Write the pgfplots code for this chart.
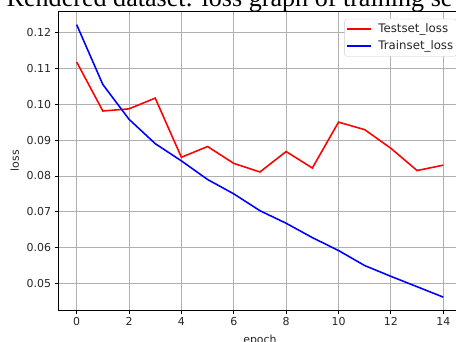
\documentclass[border=0pt]{standalone}
\usepackage{fontspec}
\setmainfont{DejaVu Sans}
\newfontfamily\titlefont{Liberation Serif}
\usepackage{pgfplots}
\pgfplotsset{compat=1.18}
\definecolor{gridgray}{RGB}{176,176,176}
\definecolor{legframe}{RGB}{204,204,204}
\definecolor{labelgray}{RGB}{38,38,38}
\begin{document}
\begin{tikzpicture}
\useasboundingbox (0,0) rectangle (456bp,342bp);
\node[anchor=base west, inner sep=0pt, font=\titlefont\fontsize{26.2}{30}\selectfont] at (6.5bp,335bp) {Rendered dataset: loss graph of training se};
\begin{axis}[
  at={(58.3bp,32bp)}, anchor=south west,
  scale only axis, width=403.3bp, height=299bp,
  xmin=-0.7, xmax=14.7, ymin=0.04261, ymax=0.12599,
  xtick={0,2,4,6,8,10,12,14},
  ytick={0.05,0.06,0.07,0.08,0.09,0.10,0.11,0.12},
  yticklabel style={/pgf/number format/fixed, /pgf/number format/fixed zerofill, /pgf/number format/precision=2},
  /pgf/number format/assume math mode=true,
  tick label style={font=\fontsize{11}{12}\selectfont, text=labelgray},
  label style={font=\fontsize{11}{12}\selectfont, text=labelgray},
  tick pos=left, tick align=outside, major tick length=3.7bp,
  tick style={black, line width=0.8bp},
  axis line style={black, line width=0.8bp},
  grid=major, major grid style={gridgray, line width=0.8bp},
  xlabel={epoch}, ylabel={loss},
  xlabel style={at={(axis description cs:0.5,-0.074)}, anchor=north},
  ylabel style={at={(axis description cs:-0.108,0.5)}, anchor=center},
  legend style={at={(0.9876,0.974)}, anchor=north east, draw=legframe, rounded corners=2.5bp, fill=white, font=\fontsize{11.8}{13}\selectfont, text=labelgray, inner xsep=2bp, inner ysep=3.5bp, row sep=3.5bp, column sep=5.5bp, nodes={inner sep=1.2bp, text height=8.5bp, text depth=2.5bp}},
  legend cell align=left,
  legend image code/.code={\draw[#1, line width=1.57bp] (0bp,0bp) -- (23.6bp,0bp);},
]
\addplot[color={rgb,255:red,255;green,0;blue,0}, line width=1.57bp] coordinates {
(0,0.1118) (1,0.0981) (2,0.0987) (3,0.1017) (4,0.0852) (5,0.0882) (6,0.0835) (7,0.0811)
(8,0.0868) (9,0.0822) (10,0.0950) (11,0.0929) (12,0.0877) (13,0.0815) (14,0.0830)};
\addlegendentry{Testset\_loss}
\addplot[color={rgb,255:red,0;green,0;blue,255}, line width=1.57bp] coordinates {
(0,0.1222) (1,0.1055) (2,0.0958) (3,0.0890) (4,0.0842) (5,0.0790) (6,0.0750) (7,0.0703)
(8,0.0668) (9,0.0628) (10,0.0592) (11,0.0550) (12,0.0520) (13,0.0491) (14,0.0462)};
\addlegendentry{Trainset\_loss}
\end{axis}
\end{tikzpicture}
\end{document}
